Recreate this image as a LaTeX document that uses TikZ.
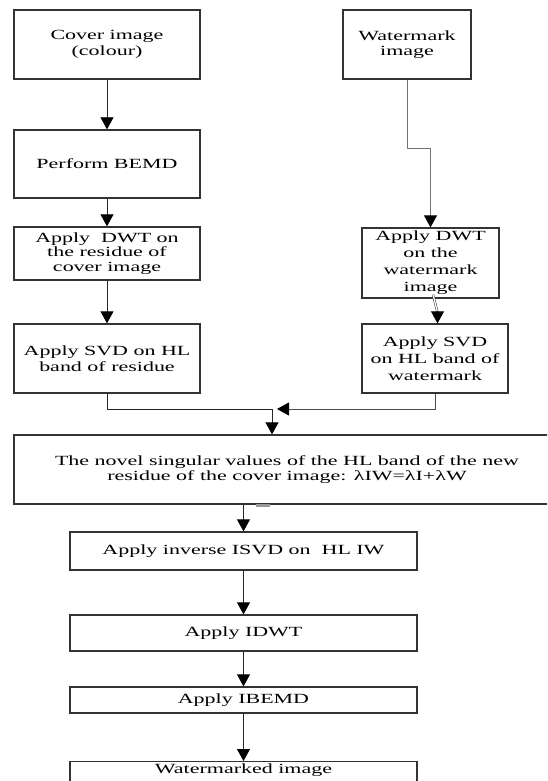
\documentclass[tikz,border=0pt]{standalone}
\usepackage{fontspec}
\setmainfont{Liberation Serif}[FakeStretch=1.57]
\usetikzlibrary{arrows.meta}

\tikzset{
  box/.style={draw=black!80, line width=1.3pt, inner sep=0pt, align=center,
    font=\fontsize{14}{15.5}\selectfont},
  tall/.style={font=\fontsize{14}{17}\selectfont},
  snug/.style={font=\fontsize{14}{14.8}\selectfont},
  arr/.style={draw=black!85, line width=0.8pt,
    -{Triangle[width=13pt,length=12pt,fill=black,color=black]}},
  link/.style={draw=black!85, line width=0.8pt},
  dbl/.style={draw=black!80, line width=0.5pt, double, double distance=1.3pt}
}

\begin{document}
\begin{tikzpicture}[x=1pt,y=-1pt]
\useasboundingbox (0,0) rectangle (547,781);
\clip (0,0) rectangle (547,781);
% left column
\node[box, minimum width=186pt, minimum height=69pt] (cover) at (107,44.5) {Cover image\\(colour)};
\node[box, minimum width=186pt, minimum height=68pt] (bemd) at (107,164) {Perform BEMD};
\node[box, snug, minimum width=186pt, minimum height=53pt] (dwtL) at (107,253.5) {Apply~ DWT on\\the residue of\\cover image};
\node[box, minimum width=186pt, minimum height=69pt] (svdL) at (107,358.5) {Apply SVD on HL\\band of residue};
% right column
\node[box, minimum width=128pt, minimum height=69pt] (wmk) at (407,44.5) {Watermark\\image};
\node[box, tall, minimum width=137pt, minimum height=70pt] (dwtR) at (430.5,263) {Apply DWT\\on the\\watermark\\image};
\node[box, tall, minimum width=146pt, minimum height=69pt] (svdR) at (435,358.5) {Apply SVD\\on HL band of\\watermark};
% embedding and inverse steps
\node[box, minimum width=546pt, minimum height=69pt] (novel) at (287,469.5) {The novel singular values of the HL band of the new\\residue of the cover image: λIW=λI+λW};
\node[box, minimum width=347pt, minimum height=38pt] (isvd) at (243.5,551) {Apply inverse ISVD on~ HL IW};
\node[box, minimum width=347pt, minimum height=36pt] (idwt) at (243.5,633) {Apply IDWT};
\node[box, minimum width=347pt, minimum height=26pt] (ibemd) at (243.5,700) {Apply IBEMD};
\node[box, minimum width=347pt, anchor=north, inner ysep=2pt, text depth=30pt] (wmkd) at (243.5,761) {Watermarked image};

\coordinate (wstep) at (430.5,148);
\coordinate (mrg) at (272,409);
\coordinate (mrgR) at (277,409);

\draw[arr] (cover) -- (bemd);
\draw[arr] (bemd) -- (dwtL);
\draw[arr] (dwtL) -- (svdL);
\draw[arr, draw=black!55] (wmk.south) |- (wstep) -- (dwtR.north);
\draw[dbl] ([xshift=2.5pt,yshift=4pt]dwtR.south) -- ([xshift=2.5pt,yshift=11pt]svdR.north);
\draw[arr] ([xshift=2.5pt,yshift=12pt]svdR.north) -- ([xshift=2.5pt]svdR.north);
\draw[link] (svdL.south) |- (mrg);
\draw[arr, draw=black!70] (svdR.south) |- (mrgR);
\draw[arr] (mrg) -- (novel.north -| mrg);
\fill[black!40] (256,503.5) rectangle (270,506.5);
\draw[arr] (novel.south -| isvd.north) -- (isvd.north);
\draw[arr] (isvd) -- (idwt);
\draw[arr] (idwt) -- (ibemd);
\draw[arr] (ibemd) -- (wmkd);
\end{tikzpicture}
\end{document}
